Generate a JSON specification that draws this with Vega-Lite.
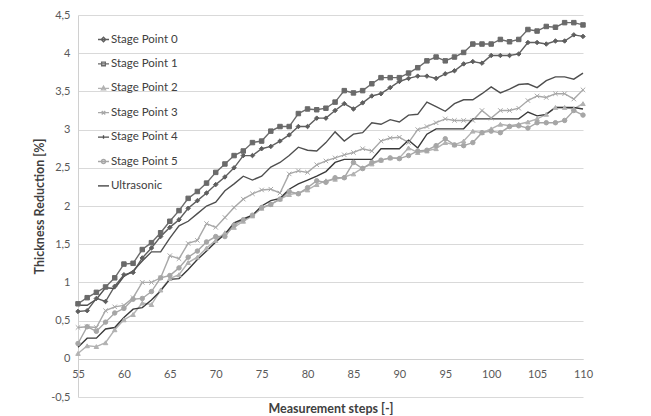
{
  "$schema": "https://vega.github.io/schema/vega-lite/v6.json",
  "width": 505,
  "height": 382,
  "autosize": {"type": "none"},
  "padding": {"left": 78, "top": 15, "right": 68, "bottom": 19},
  "background": "white",
  "config": {"font": "Lato", "view": {"stroke": null}},
  "data": {"values": [
    {"step":55,"Stage Point 0":0.62,"Stage Point 1":0.72,"Stage Point 2":0.07,"Stage Point 3":0.41,"Stage Point 4":0.70,"Stage Point 5":0.20,"Ultrasonic":0.15},
    {"step":56,"Stage Point 0":0.63,"Stage Point 1":0.80,"Stage Point 2":0.17,"Stage Point 3":0.42,"Stage Point 4":0.70,"Stage Point 5":0.42,"Ultrasonic":0.27},
    {"step":57,"Stage Point 0":0.79,"Stage Point 1":0.87,"Stage Point 2":0.16,"Stage Point 3":0.41,"Stage Point 4":0.78,"Stage Point 5":0.36,"Ultrasonic":0.27},
    {"step":58,"Stage Point 0":0.75,"Stage Point 1":0.94,"Stage Point 2":0.21,"Stage Point 3":0.63,"Stage Point 4":0.93,"Stage Point 5":0.48,"Ultrasonic":0.39},
    {"step":59,"Stage Point 0":0.95,"Stage Point 1":1.06,"Stage Point 2":0.38,"Stage Point 3":0.68,"Stage Point 4":0.92,"Stage Point 5":0.60,"Ultrasonic":0.41},
    {"step":60,"Stage Point 0":1.10,"Stage Point 1":1.24,"Stage Point 2":0.51,"Stage Point 3":0.70,"Stage Point 4":1.08,"Stage Point 5":0.66,"Ultrasonic":0.54},
    {"step":61,"Stage Point 0":1.13,"Stage Point 1":1.25,"Stage Point 2":0.58,"Stage Point 3":0.80,"Stage Point 4":1.15,"Stage Point 5":0.78,"Ultrasonic":0.65},
    {"step":62,"Stage Point 0":1.32,"Stage Point 1":1.43,"Stage Point 2":0.73,"Stage Point 3":1.00,"Stage Point 4":1.28,"Stage Point 5":0.79,"Ultrasonic":0.67},
    {"step":63,"Stage Point 0":1.45,"Stage Point 1":1.52,"Stage Point 2":0.71,"Stage Point 3":1.00,"Stage Point 4":1.40,"Stage Point 5":0.88,"Ultrasonic":0.77},
    {"step":64,"Stage Point 0":1.60,"Stage Point 1":1.65,"Stage Point 2":0.90,"Stage Point 3":1.06,"Stage Point 4":1.40,"Stage Point 5":1.06,"Ultrasonic":0.89},
    {"step":65,"Stage Point 0":1.72,"Stage Point 1":1.80,"Stage Point 2":1.05,"Stage Point 3":1.35,"Stage Point 4":1.58,"Stage Point 5":1.09,"Ultrasonic":1.04},
    {"step":66,"Stage Point 0":1.82,"Stage Point 1":1.94,"Stage Point 2":1.10,"Stage Point 3":1.31,"Stage Point 4":1.74,"Stage Point 5":1.19,"Ultrasonic":1.05},
    {"step":67,"Stage Point 0":1.97,"Stage Point 1":2.10,"Stage Point 2":1.26,"Stage Point 3":1.51,"Stage Point 4":1.80,"Stage Point 5":1.33,"Ultrasonic":1.17},
    {"step":68,"Stage Point 0":2.07,"Stage Point 1":2.19,"Stage Point 2":1.33,"Stage Point 3":1.55,"Stage Point 4":1.90,"Stage Point 5":1.41,"Ultrasonic":1.30},
    {"step":69,"Stage Point 0":2.17,"Stage Point 1":2.30,"Stage Point 2":1.45,"Stage Point 3":1.77,"Stage Point 4":2.00,"Stage Point 5":1.53,"Ultrasonic":1.41},
    {"step":70,"Stage Point 0":2.28,"Stage Point 1":2.44,"Stage Point 2":1.55,"Stage Point 3":1.72,"Stage Point 4":2.05,"Stage Point 5":1.60,"Ultrasonic":1.53},
    {"step":71,"Stage Point 0":2.38,"Stage Point 1":2.55,"Stage Point 2":1.65,"Stage Point 3":1.85,"Stage Point 4":2.20,"Stage Point 5":1.60,"Ultrasonic":1.63},
    {"step":72,"Stage Point 0":2.50,"Stage Point 1":2.66,"Stage Point 2":1.72,"Stage Point 3":1.98,"Stage Point 4":2.29,"Stage Point 5":1.75,"Ultrasonic":1.78},
    {"step":73,"Stage Point 0":2.66,"Stage Point 1":2.72,"Stage Point 2":1.80,"Stage Point 3":2.09,"Stage Point 4":2.39,"Stage Point 5":1.82,"Ultrasonic":1.83},
    {"step":74,"Stage Point 0":2.66,"Stage Point 1":2.83,"Stage Point 2":1.87,"Stage Point 3":2.16,"Stage Point 4":2.34,"Stage Point 5":1.88,"Ultrasonic":1.88},
    {"step":75,"Stage Point 0":2.75,"Stage Point 1":2.85,"Stage Point 2":1.97,"Stage Point 3":2.21,"Stage Point 4":2.39,"Stage Point 5":1.98,"Ultrasonic":2.00},
    {"step":76,"Stage Point 0":2.78,"Stage Point 1":2.98,"Stage Point 2":2.02,"Stage Point 3":2.22,"Stage Point 4":2.51,"Stage Point 5":2.02,"Ultrasonic":2.07},
    {"step":77,"Stage Point 0":2.85,"Stage Point 1":3.04,"Stage Point 2":2.09,"Stage Point 3":2.17,"Stage Point 4":2.57,"Stage Point 5":2.09,"Ultrasonic":2.10},
    {"step":78,"Stage Point 0":2.93,"Stage Point 1":3.04,"Stage Point 2":2.15,"Stage Point 3":2.42,"Stage Point 4":2.66,"Stage Point 5":2.19,"Ultrasonic":2.22},
    {"step":79,"Stage Point 0":3.04,"Stage Point 1":3.21,"Stage Point 2":2.17,"Stage Point 3":2.46,"Stage Point 4":2.77,"Stage Point 5":2.16,"Ultrasonic":2.29},
    {"step":80,"Stage Point 0":3.04,"Stage Point 1":3.27,"Stage Point 2":2.21,"Stage Point 3":2.44,"Stage Point 4":2.73,"Stage Point 5":2.24,"Ultrasonic":2.34},
    {"step":81,"Stage Point 0":3.15,"Stage Point 1":3.26,"Stage Point 2":2.28,"Stage Point 3":2.54,"Stage Point 4":2.72,"Stage Point 5":2.33,"Ultrasonic":2.39},
    {"step":82,"Stage Point 0":3.15,"Stage Point 1":3.28,"Stage Point 2":2.33,"Stage Point 3":2.59,"Stage Point 4":2.83,"Stage Point 5":2.31,"Ultrasonic":2.45},
    {"step":83,"Stage Point 0":3.25,"Stage Point 1":3.36,"Stage Point 2":2.35,"Stage Point 3":2.63,"Stage Point 4":2.97,"Stage Point 5":2.37,"Ultrasonic":2.57},
    {"step":84,"Stage Point 0":3.34,"Stage Point 1":3.51,"Stage Point 2":2.38,"Stage Point 3":2.67,"Stage Point 4":2.85,"Stage Point 5":2.37,"Ultrasonic":2.61},
    {"step":85,"Stage Point 0":3.27,"Stage Point 1":3.48,"Stage Point 2":2.42,"Stage Point 3":2.70,"Stage Point 4":2.94,"Stage Point 5":2.57,"Ultrasonic":2.61},
    {"step":86,"Stage Point 0":3.35,"Stage Point 1":3.51,"Stage Point 2":2.50,"Stage Point 3":2.75,"Stage Point 4":2.96,"Stage Point 5":2.49,"Ultrasonic":2.61},
    {"step":87,"Stage Point 0":3.44,"Stage Point 1":3.60,"Stage Point 2":2.55,"Stage Point 3":2.72,"Stage Point 4":3.09,"Stage Point 5":2.57,"Ultrasonic":2.61},
    {"step":88,"Stage Point 0":3.47,"Stage Point 1":3.68,"Stage Point 2":2.60,"Stage Point 3":2.85,"Stage Point 4":3.07,"Stage Point 5":2.60,"Ultrasonic":2.75},
    {"step":89,"Stage Point 0":3.55,"Stage Point 1":3.68,"Stage Point 2":2.63,"Stage Point 3":2.89,"Stage Point 4":3.13,"Stage Point 5":2.63,"Ultrasonic":2.75},
    {"step":90,"Stage Point 0":3.63,"Stage Point 1":3.68,"Stage Point 2":2.63,"Stage Point 3":2.90,"Stage Point 4":3.10,"Stage Point 5":2.62,"Ultrasonic":2.75},
    {"step":91,"Stage Point 0":3.67,"Stage Point 1":3.74,"Stage Point 2":2.76,"Stage Point 3":2.83,"Stage Point 4":3.19,"Stage Point 5":2.66,"Ultrasonic":2.86},
    {"step":92,"Stage Point 0":3.70,"Stage Point 1":3.81,"Stage Point 2":2.70,"Stage Point 3":3.00,"Stage Point 4":3.20,"Stage Point 5":2.72,"Ultrasonic":2.76},
    {"step":93,"Stage Point 0":3.70,"Stage Point 1":3.90,"Stage Point 2":2.72,"Stage Point 3":3.04,"Stage Point 4":3.36,"Stage Point 5":2.73,"Ultrasonic":2.94},
    {"step":94,"Stage Point 0":3.67,"Stage Point 1":3.95,"Stage Point 2":2.75,"Stage Point 3":3.09,"Stage Point 4":3.30,"Stage Point 5":2.79,"Ultrasonic":3.01},
    {"step":95,"Stage Point 0":3.73,"Stage Point 1":3.90,"Stage Point 2":2.83,"Stage Point 3":3.14,"Stage Point 4":3.24,"Stage Point 5":2.88,"Ultrasonic":3.01},
    {"step":96,"Stage Point 0":3.77,"Stage Point 1":3.95,"Stage Point 2":2.80,"Stage Point 3":3.12,"Stage Point 4":3.34,"Stage Point 5":2.80,"Ultrasonic":3.01},
    {"step":97,"Stage Point 0":3.86,"Stage Point 1":4.01,"Stage Point 2":2.85,"Stage Point 3":3.12,"Stage Point 4":3.39,"Stage Point 5":2.79,"Ultrasonic":3.01},
    {"step":98,"Stage Point 0":3.89,"Stage Point 1":4.12,"Stage Point 2":2.98,"Stage Point 3":3.12,"Stage Point 4":3.39,"Stage Point 5":2.83,"Ultrasonic":3.14},
    {"step":99,"Stage Point 0":3.87,"Stage Point 1":4.12,"Stage Point 2":2.96,"Stage Point 3":3.25,"Stage Point 4":3.47,"Stage Point 5":2.96,"Ultrasonic":3.14},
    {"step":100,"Stage Point 0":3.97,"Stage Point 1":4.12,"Stage Point 2":3.01,"Stage Point 3":3.15,"Stage Point 4":3.56,"Stage Point 5":2.98,"Ultrasonic":3.14},
    {"step":101,"Stage Point 0":3.97,"Stage Point 1":4.18,"Stage Point 2":3.07,"Stage Point 3":3.25,"Stage Point 4":3.48,"Stage Point 5":2.96,"Ultrasonic":3.14},
    {"step":102,"Stage Point 0":3.97,"Stage Point 1":4.15,"Stage Point 2":3.05,"Stage Point 3":3.25,"Stage Point 4":3.53,"Stage Point 5":3.04,"Ultrasonic":3.14},
    {"step":103,"Stage Point 0":3.99,"Stage Point 1":4.18,"Stage Point 2":3.07,"Stage Point 3":3.28,"Stage Point 4":3.59,"Stage Point 5":3.05,"Ultrasonic":3.14},
    {"step":104,"Stage Point 0":4.14,"Stage Point 1":4.31,"Stage Point 2":3.10,"Stage Point 3":3.38,"Stage Point 4":3.60,"Stage Point 5":3.02,"Ultrasonic":3.23},
    {"step":105,"Stage Point 0":4.14,"Stage Point 1":4.29,"Stage Point 2":3.14,"Stage Point 3":3.44,"Stage Point 4":3.55,"Stage Point 5":3.09,"Ultrasonic":3.18},
    {"step":106,"Stage Point 0":4.12,"Stage Point 1":4.35,"Stage Point 2":3.20,"Stage Point 3":3.42,"Stage Point 4":3.64,"Stage Point 5":3.09,"Ultrasonic":3.20},
    {"step":107,"Stage Point 0":4.16,"Stage Point 1":4.34,"Stage Point 2":3.29,"Stage Point 3":3.47,"Stage Point 4":3.69,"Stage Point 5":3.09,"Ultrasonic":3.29},
    {"step":108,"Stage Point 0":4.16,"Stage Point 1":4.40,"Stage Point 2":3.29,"Stage Point 3":3.47,"Stage Point 4":3.69,"Stage Point 5":3.12,"Ultrasonic":3.29},
    {"step":109,"Stage Point 0":4.24,"Stage Point 1":4.40,"Stage Point 2":3.27,"Stage Point 3":3.40,"Stage Point 4":3.66,"Stage Point 5":3.25,"Ultrasonic":3.29},
    {"step":110,"Stage Point 0":4.22,"Stage Point 1":4.37,"Stage Point 2":3.34,"Stage Point 3":3.52,"Stage Point 4":3.74,"Stage Point 5":3.19,"Ultrasonic":3.27}
  ]},
  "transform": [
    {"fold": ["Stage Point 0","Stage Point 1","Stage Point 2","Stage Point 3","Stage Point 4","Stage Point 5","Ultrasonic"], "as": ["series","value"]}
  ],
  "encoding": {
    "x": {"field": "step", "type": "quantitative",
      "scale": {"domain": [55,110], "nice": false, "zero": false},
      "axis": {"values": [55,60,65,70,75,80,85,90,95,100,105,110], "title": "Measurement steps [-]", "offset": -38, "grid": false,
        "labelFlush": false, "labelOverlap": false,
        "domainColor": "#d0d0d0", "tickSize": 0, "labelPadding": 9, "labelFontSize": 11, "labelColor": "#595959",
        "titleFontSize": 12.5, "titleFontWeight": "bold", "titleColor": "#404040", "titlePadding": 23}},
    "y": {"field": "value", "type": "quantitative",
      "scale": {"domain": [-0.5,4.5], "nice": false, "zero": false},
      "axis": {"values": [-0.5,0,0.5,1,1.5,2,2.5,3,3.5,4,4.5], "title": "Thickness Reduction [%]",
        "labelExpr": "replace(toString(datum.value), '.', ',')",
        "gridColor": "#d9d9d9", "domainColor": "#d0d0d0", "tickSize": 0, "labelPadding": 8, "labelFontSize": 11, "labelColor": "#595959",
        "titleFontSize": 12.5, "titleFontWeight": "bold", "titleColor": "#404040", "titlePadding": 4}}
  },
  "layer": [
    {
      "mark": {"type": "line", "strokeWidth": 1.4},
      "encoding": {
        "color": {"field": "series", "type": "nominal", "legend": null,
          "scale": {"domain": ["Stage Point 0","Stage Point 1","Stage Point 2","Stage Point 3","Stage Point 4","Stage Point 5","Ultrasonic"],
            "range": ["#5e5e5e","#6a6a6a","#b2b2b2","#a8a8a8","#4f4f4f","#a6a6a6","#3a3a3a"]}}
      }
    },
    {
      "transform": [{"filter": "datum.series != 'Stage Point 4' && datum.series != 'Ultrasonic'"}],
      "mark": {"type": "point", "filled": true, "size": 20, "strokeWidth": 1, "opacity": 1},
      "encoding": {
        "color": {"field": "series", "type": "nominal", "legend": null,
          "scale": {"domain": ["Stage Point 0","Stage Point 1","Stage Point 2","Stage Point 3","Stage Point 4","Stage Point 5","Ultrasonic"],
            "range": ["#5e5e5e","#6a6a6a","#b2b2b2","#a8a8a8","#4f4f4f","#a6a6a6","#3a3a3a"]}},
        "stroke": {"field": "series", "type": "nominal", "legend": null,
          "scale": {"domain": ["Stage Point 0","Stage Point 1","Stage Point 2","Stage Point 3","Stage Point 4","Stage Point 5","Ultrasonic"],
            "range": ["#5e5e5e","#6a6a6a","#b2b2b2","#a8a8a8","#4f4f4f","#a6a6a6","#3a3a3a"]}},
        "shape": {"field": "series", "type": "nominal", "legend": null,
          "scale": {"domain": ["Stage Point 0","Stage Point 1","Stage Point 2","Stage Point 3","Stage Point 4","Stage Point 5","Ultrasonic"],
            "range": ["diamond","square","triangle-up","M-1,-1L1,1M-1,1L1,-1","circle","circle","circle"]}}
      }
    },
    {
      "mark": {"type": "point", "filled": true, "size": 20, "opacity": 0},
      "encoding": {
        "color": {"field": "series", "type": "nominal",
          "scale": {"domain": ["Stage Point 0","Stage Point 1","Stage Point 2","Stage Point 3","Stage Point 4","Stage Point 5","Ultrasonic"],
            "range": ["#5e5e5e","#6a6a6a","#b2b2b2","#a8a8a8","#4f4f4f","#a6a6a6","#3a3a3a"]},
          "legend": {"title": null, "orient": "none", "legendX": 19, "legendY": 18, "padding": 0,
            "symbolSize": 121, "symbolStrokeWidth": 1.3, "symbolOpacity": 1,
            "labelFontSize": 11.5, "labelColor": "#404040", "labelFont": "Lato", "labelOffset": 1, "rowPadding": 12.4}},
        "stroke": {"field": "series", "type": "nominal",
          "scale": {"domain": ["Stage Point 0","Stage Point 1","Stage Point 2","Stage Point 3","Stage Point 4","Stage Point 5","Ultrasonic"],
            "range": ["#5e5e5e","#6a6a6a","#b2b2b2","#a8a8a8","#4f4f4f","#a6a6a6","#3a3a3a"]}},
        "shape": {"field": "series", "type": "nominal",
          "scale": {"domain": ["Stage Point 0","Stage Point 1","Stage Point 2","Stage Point 3","Stage Point 4","Stage Point 5","Ultrasonic"],
            "range": [
              "M-1,0H1M0,-0.42L0.42,0L0,0.42L-0.42,0Z",
              "M-1,0H1M-0.34,-0.34H0.34V0.34H-0.34Z",
              "M-1,0H1M0,-0.4L0.38,0.3H-0.38Z",
              "M-1,0H1M-0.32,-0.32L0.32,0.32M-0.32,0.32L0.32,-0.32",
              "M-1,0H1M0,-0.32V0.32",
              "M-1,0H1M0.36,0A0.36,0.36,0,1,1,-0.36,0A0.36,0.36,0,1,1,0.36,0Z",
              "M-1,0H1"
            ]}}
      }
    }
  ],
  "resolve": {"scale": {"color": "independent", "stroke": "independent", "shape": "independent"}}
}
